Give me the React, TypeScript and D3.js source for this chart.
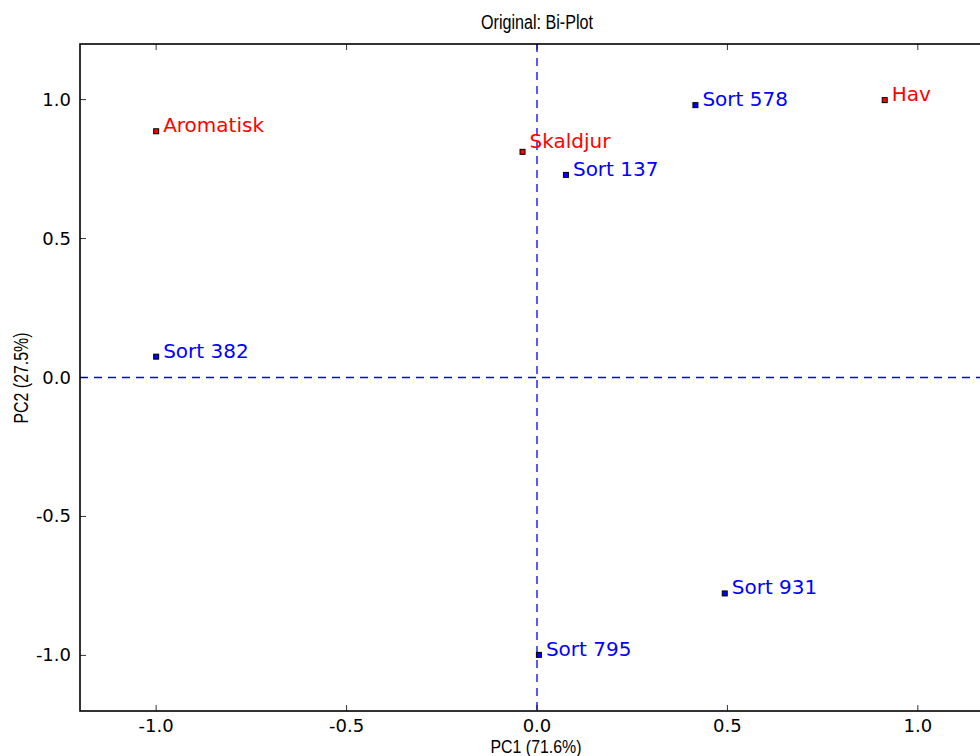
import { useEffect, useRef } from 'react';
import * as d3 from 'd3';

const W = 980;
const H = 756;

// variables (red) and samples (blue)
const varNames = ['Aromatisk', 'Skaldjur', 'Hav'];
const varPC1 = [-1.0, -0.038, 0.913];
const varPC2 = [0.886, 0.812, 0.998];

const sortNames = ['Sort 578', 'Sort 137', 'Sort 382', 'Sort 931', 'Sort 795'];
const sortPC1 = [0.416, 0.076, -1.0, 0.493, 0.005];
const sortPC2 = [0.98, 0.729, 0.075, -0.777, -0.998];

const ticks = [-1.0, -0.5, 0.0, 0.5, 1.0];
const tickLabels = ['-1.0', '-0.5', '0.0', '0.5', '1.0'];

export default function App() {
  const svgRef = useRef<SVGSVGElement>(null);

  useEffect(() => {
    const svg = d3.select(svgRef.current);
    svg.selectAll('*').remove();

    const x = d3.scaleLinear().domain([-1.2, 1.2]).range([80, 994]);
    const y = d3.scaleLinear().domain([-1.2, 1.2]).range([711, 44]);
    const [x0, x1] = x.range();
    const [yb, yt] = y.range();

    const tickFont = '"DejaVu Sans", sans-serif';
    const narrow = '"Liberation Sans Narrow", "Liberation Sans", sans-serif';

    // zero lines
    svg.append('line')
      .attr('x1', x(0)).attr('x2', x(0)).attr('y1', yt).attr('y2', yb)
      .attr('stroke', '#0000ff').attr('stroke-width', 1.3).attr('stroke-dasharray', '8,6');
    svg.append('line')
      .attr('x1', x0).attr('x2', x1).attr('y1', y(0)).attr('y2', y(0))
      .attr('stroke', '#0000ff').attr('stroke-width', 1.3).attr('stroke-dasharray', '8,6');

    // frame
    svg.append('rect')
      .attr('x', x0).attr('y', yt).attr('width', x1 - x0).attr('height', yb - yt)
      .attr('fill', 'none').attr('stroke', '#000').attr('stroke-width', 1.6);

    // ticks (inward)
    const tg = svg.append('g').attr('stroke', '#000').attr('stroke-width', 0.8);
    ticks.forEach(t => {
      tg.append('line').attr('x1', x(t)).attr('x2', x(t)).attr('y1', yb).attr('y2', yb - 6);
      tg.append('line').attr('x1', x(t)).attr('x2', x(t)).attr('y1', yt).attr('y2', yt + 6);
      tg.append('line').attr('x1', x0).attr('x2', x0 + 6).attr('y1', y(t)).attr('y2', y(t));
    });

    ticks.forEach((t, i) => {
      svg.append('text')
        .attr('x', x(t)).attr('y', yb + 21)
        .attr('text-anchor', 'middle')
        .attr('font-family', tickFont).attr('font-size', 18)
        .text(tickLabels[i]);
      svg.append('text')
        .attr('x', x0 - 9).attr('y', y(t) + 6)
        .attr('text-anchor', 'end')
        .attr('font-family', tickFont).attr('font-size', 18)
        .text(tickLabels[i]);
    });

    // title and axis labels
    svg.append('text')
      .attr('x', 537).attr('y', 29).attr('text-anchor', 'middle')
      .attr('font-family', narrow).attr('font-size', 20)
      .attr('textLength', 112).attr('lengthAdjust', 'spacingAndGlyphs')
      .text('Original: Bi-Plot');
    svg.append('text')
      .attr('x', 536).attr('y', 753).attr('text-anchor', 'middle')
      .attr('font-family', narrow).attr('font-size', 19)
      .attr('textLength', 91).attr('lengthAdjust', 'spacingAndGlyphs')
      .text('PC1 (71.6%)');
    svg.append('text')
      .attr('transform', `translate(28,378) rotate(-90)`)
      .attr('text-anchor', 'middle')
      .attr('font-family', narrow).attr('font-size', 20)
      .attr('textLength', 91).attr('lengthAdjust', 'spacingAndGlyphs')
      .text('PC2 (27.5%)');

    const drawPoints = (names: string[], px: number[], py: number[], color: string) => {
      names.forEach((n, i) => {
        const cx = x(px[i]);
        const cy = y(py[i]);
        // Skaldjur's label sits a little higher in the original
        const lift = n === 'Skaldjur' ? -5 : 0;
        svg.append('rect')
          .attr('x', cx - 2.5).attr('y', cy - 2.5).attr('width', 5).attr('height', 5)
          .attr('fill', color).attr('stroke', '#000').attr('stroke-width', 1);
        svg.append('text')
          .attr('x', cx + 7).attr('y', cy + 1 + lift)
          .attr('font-family', tickFont).attr('font-size', 20)
          .attr('fill', color)
          .text(n);
      });
    };
    drawPoints(sortNames, sortPC1, sortPC2, '#0000ff');
    drawPoints(varNames, varPC1, varPC2, '#ff0000');
  }, []);

  return (
    <svg
      ref={svgRef}
      width={W}
      height={H}
      style={{ position: 'absolute', left: 0, top: 0, background: '#fff', display: 'block' }}
    />
  );
}
